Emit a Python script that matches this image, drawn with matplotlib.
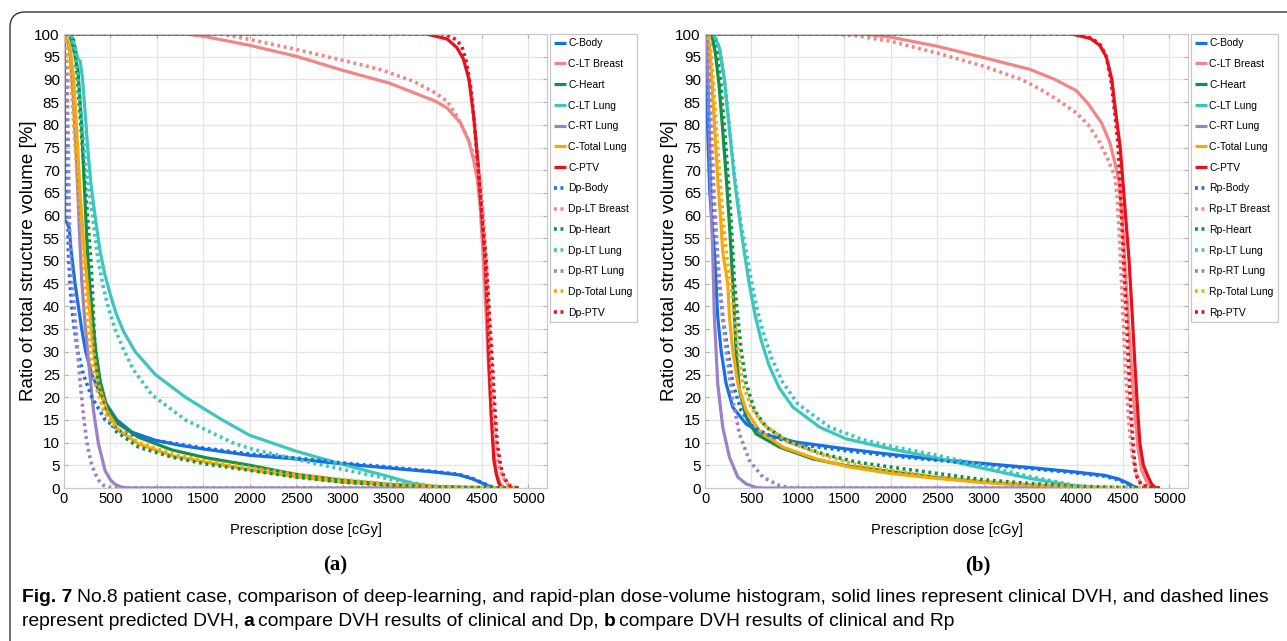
import matplotlib
matplotlib.use('Agg')
import matplotlib.pyplot as plt
from matplotlib.patches import FancyBboxPatch

# (dose [cGy], volume [%]) pairs
# panel (a): clinical (C) vs deep-learning prediction (Dp)
a_c_body = [(0,100),(3,100),(6,59),(30,58.5),(55,57.4),(76,52.4),(119,45),(155,40),(191,35),(234,30),(299,25),(407,20),(569,15),(731,12.3),(983,10.5),(1250,9.4),(1500,8.6),(2000,7.2),(2500,6.4),(3000,5.3),(3500,4.4),(4000,3.5),(4250,2.9),(4400,2.0),(4520,0.9),(4590,0.3),(4640,0)]
a_c_breast = [(0,100),(1300,100),(1500,99.5),(2000,97.5),(2500,95.1),(3000,92),(3500,89.2),(4000,85.2),(4125,83.7),(4270,80.4),(4360,76.3),(4410,72.2),(4450,68),(4480,62),(4510,52),(4540,40),(4570,27),(4600,16),(4630,7),(4660,3),(4700,0.8),(4740,0)]
a_c_heart = [(0,100),(60,100),(100,97),(150,92),(190,80),(220,66),(250,53),(280,44),(310,37),(340,30.5),(390,23.5),(460,18),(580,14.2),(800,11.2),(1160,8.4),(1520,6.7),(2000,5.0),(2500,3.0),(3000,1.7),(3500,0.8),(4000,0.3),(4400,0)]
a_c_ltlung = [(0,100),(80,100),(120,97),(150,94.5),(175,94),(200,90),(230,82),(255,75),(290,67),(340,59),(390,52),(440,47),(500,42.5),(560,38.5),(640,34.5),(767,30),(983,25),(1307,20),(1703,15),(2000,11.6),(2500,8.1),(3000,5.2),(3500,2.5),(3760,1.0),(4000,0.3),(4200,0)]
a_c_rtlung = [(0,100),(30,99),(65,96),(100,86),(137,71.5),(165,57),(190,46),(220,37.7),(263,28.1),(317,17.1),(371,9.7),(443,3.8),(500,1.8),(550,0.8),(620,0.2),(700,0),(4000,0)]
a_c_totlung = [(0,100),(30,99),(65,97),(100,91),(137,79),(173,65),(215,53),(250,45),(281,38),(317,30.3),(371,23),(461,17),(587,12.7),(803,9.7),(1163,7.1),(1523,5.7),(2000,4.0),(2500,2.5),(3000,1.3),(3500,0.7),(4000,0.3),(4300,0.1),(4500,0)]
a_c_ptv = [(0,100),(3900,100),(4125,98.9),(4230,97),(4300,94.5),(4360,90),(4410,82),(4460,71),(4500,60),(4535,50),(4560,38),(4574,28),(4600,16),(4628,6.1),(4655,3),(4682,1),(4710,0)]

a_p_body = [(0,100),(15,99),(25,90),(35,75),(47,52.4),(65,45),(83,40),(112,35),(148,30),(209,25),(299,20),(443,15),(623,12.3),(839,11.2),(1000,10.4),(1500,8.8),(2000,7.5),(2500,6.6),(3000,5.5),(3500,4.6),(4000,3.6),(4250,3.0),(4400,2.1),(4520,1.0),(4600,0.3),(4660,0)]
a_p_breast = [(0,100),(1700,100),(2000,98.8),(2500,96.6),(3000,94.2),(3400,92.2),(3760,89.6),(4000,87),(4125,85.2),(4230,81.9),(4340,77.4),(4430,72.2),(4480,68.5),(4520,58),(4550,47),(4580,35),(4610,22),(4640,12),(4670,6),(4720,2.5),(4780,0.8),(4850,0)]
a_p_heart = [(0,100),(90,100),(115,97),(144,90),(199,75),(253,60),(289,50),(305,44),(317,37.7),(335,30.3),(371,23),(443,17),(551,12.6),(803,9),(1163,6.8),(1523,5.3),(2000,3.9),(2500,2.4),(3000,1.3),(3500,0.6),(4000,0.25),(4500,0.1),(4900,0)]
a_p_ltlung = [(0,100),(70,100),(110,97),(150,90),(199,79),(253,68),(307,60),(361,51),(420,44.5),(480,39.5),(550,35),(641,30.5),(749,26),(947,20.5),(1307,15),(1811,10),(2000,8.7),(2500,6.3),(3000,4.1),(3500,2.0),(4000,0.3),(4200,0)]
a_p_rtlung = [(0,100),(15,98),(35,88),(50,70),(65,52),(90,45),(119,37.7),(150,29),(180,22),(210,16),(240,11),(270,7.5),(300,5),(340,3),(380,1.5),(430,0.5),(500,0),(4000,0)]
a_p_totlung = [(0,100),(20,98),(45,95),(80,88),(120,75),(160,63),(200,54),(227,45),(245,37.7),(281,30.3),(335,23),(425,17),(551,13.4),(803,10),(1163,7.5),(1523,6),(2000,4.5),(2500,3.0),(3000,1.8),(3500,0.9),(4000,0.4),(4500,0.1),(4900,0)]
a_p_ptv = [(0,100),(4100,100),(4200,99),(4280,97.5),(4330,94),(4380,88),(4420,80),(4460,70),(4500,60),(4545,50),(4580,38),(4610,28),(4640,17),(4664,9.8),(4700,5),(4736,2.4),(4770,1.2),(4808,0.4),(4860,0.1),(4916,0)]

# panel (b): clinical (C) vs rapid-plan prediction (Rp)
b_c_body = [(0,100),(5,97),(15,90),(30,78),(50,66),(75,58),(101,52),(119,45),(137,37.7),(173,30.3),(227,23),(299,17.8),(443,14.1),(623,11.9),(983,10.1),(1523,8.6),(2000,7.4),(2500,6.3),(3000,5.4),(3500,4.5),(4000,3.5),(4300,2.8),(4450,2.0),(4540,1.2),(4630,0.2),(4680,0)]
b_c_breast = [(0,100),(1700,100),(2000,99.3),(2500,97.3),(3000,94.8),(3500,92.2),(3766,90),(4000,87.5),(4126,84.6),(4270,80.4),(4360,76),(4414,71.5),(4458,67.5),(4490,60),(4520,50),(4555,38),(4590,27),(4625,17),(4660,9),(4700,4),(4760,1.2),(4820,0)]
b_c_heart = [(0,100),(70,100),(110,96),(150,89),(190,79),(230,68),(260,59),(281,52),(299,45),(317,37.7),(335,30.3),(371,21.5),(443,15.6),(551,11.9),(803,9),(1163,6.4),(1523,4.9),(2000,3.6),(2500,2.3),(3000,1.3),(3500,0.6),(4000,0.2),(4300,0)]
b_c_ltlung = [(0,100),(90,100),(155,97),(209,90),(263,79),(317,68),(380,58),(430,51),(480,44.5),(540,38),(605,32.5),(690,27),(800,22),(947,17.8),(1235,13.4),(1523,10.8),(2000,8.6),(2500,6.6),(3000,4.3),(3500,2.1),(4000,0.4),(4200,0)]
b_c_rtlung = [(0,100),(15,98),(35,88),(55,72),(70,60),(83,52),(101,37.7),(137,23),(191,13.4),(263,6.8),(353,2.4),(443,0.9),(551,0.1),(623,0),(4000,0)]
b_c_totlung = [(0,100),(30,100),(50,97),(80,88),(110,77),(140,67),(170,59),(191,52),(245,45),(263,37.7),(299,30.3),(353,23),(443,17.1),(587,12.6),(839,9),(1199,6.4),(1559,4.6),(2000,3.2),(2500,2.1),(3000,1.2),(3500,0.6),(4000,0.2),(4300,0)]
b_c_ptv = [(0,100),(3950,100),(4150,99),(4250,97.5),(4320,95),(4380,90),(4420,83),(4470,75),(4520,62),(4566,50),(4600,38),(4626,28),(4655,18),(4682,9.8),(4720,5),(4772,2.4),(4810,0.8),(4844,0.2),(4860,0)]

b_p_body = [(0,100),(15,99),(35,92),(55,80),(80,67),(119,52),(155,45),(191,37.7),(245,30.3),(299,23),(389,17.1),(515,13.4),(731,11.2),(983,9.7),(1523,8.2),(2000,7.1),(2500,6.1),(3000,5.2),(3500,4.3),(4000,3.3),(4300,2.6),(4450,1.8),(4540,1.0),(4620,0.2),(4680,0)]
b_p_breast = [(0,100),(1350,100),(1600,99.7),(2000,98.4),(2500,95.8),(3000,92.9),(3406,90),(3586,88.1),(3766,85.9),(4000,82.6),(4126,80),(4234,76.7),(4342,72.2),(4414,68.5),(4440,63.5),(4470,52),(4500,38),(4530,25),(4560,15),(4600,7),(4650,2.5),(4700,0.8),(4760,0)]
b_p_heart = [(0,100),(90,100),(130,96),(170,89),(210,79),(250,68),(280,59),(299,52),(317,45),(353,37.7),(389,30.3),(443,23),(533,17.1),(659,13.4),(911,10.1),(1271,7.5),(1631,5.7),(2000,4.6),(2500,3.2),(3000,1.8),(3500,1.0),(4000,0.4),(4500,0.1),(4900,0)]
b_p_ltlung = [(0,100),(100,100),(165,96),(220,88),(275,77),(330,67),(390,58),(443,52),(500,45.5),(560,39.5),(630,34),(720,28.5),(830,23.5),(1000,18.5),(1343,13.4),(1703,10.6),(2000,9.2),(2500,7.2),(3000,4.9),(3500,2.5),(4000,0.5),(4250,0)]
b_p_rtlung = [(0,100),(20,98),(45,90),(70,78),(100,64),(140,50),(180,40),(227,30.3),(299,19.3),(371,11.9),(479,6),(623,2.4),(803,0.5),(947,0),(4000,0)]
b_p_totlung = [(0,100),(40,100),(60,97),(95,88),(130,77),(165,67),(200,58),(240,50),(280,45),(317,37.7),(353,30.3),(407,23),(497,17.8),(623,14.1),(875,10.4),(1235,7.5),(1595,5.3),(2000,3.8),(2500,2.4),(3000,1.4),(3500,0.7),(4000,0.3),(4500,0.1),(4900,0)]
b_p_ptv = [(0,100),(4000,100),(4170,99),(4260,97.5),(4320,95),(4370,90),(4410,83),(4446,76),(4480,62),(4508,50),(4540,37),(4558,28),(4590,15),(4615,8),(4637,3.2),(4670,1.5),(4709,0.6),(4800,0.2),(4900,0)]

structures = ['Body', 'LT Breast', 'Heart', 'LT Lung', 'RT Lung', 'Total Lung', 'PTV']
colors = ['#1570e8', '#f28585', '#12914a', '#3cc6bd', '#9b82c6', '#f5a90c', '#e8101c']
x_ticks = list(range(0, 5001, 500))
y_ticks = list(range(0, 101, 5))

W, H = 1287, 641
plt.rcParams['font.family'] = ['Liberation Sans', 'DejaVu Sans']

fig = plt.figure(figsize=(W / 100, H / 100), dpi=100)


def draw_panel(left, clinical, predicted, tag, letter, letter_x):
    ax = fig.add_axes([left / W, 1 - 488 / H, 483 / W, 454 / H])
    for name, pts, col in zip(structures, clinical, colors):
        d, v = zip(*pts)
        ax.plot(d, v, color=col, lw=2.3, label='C-' + name, solid_capstyle='butt')
    for name, pts, col in zip(structures, predicted, colors):
        d, v = zip(*pts)
        ax.plot(d, v, color=col, lw=2.6, ls=(0, (0.8, 1.0)), label=tag + '-' + name)
    ax.set_xlim(0, 5200)
    ax.set_ylim(0, 100)
    ax.set_xticks(x_ticks)
    ax.set_yticks(y_ticks)
    ax.tick_params(labelsize=11, direction='in', length=3, color='#b0b0b0',
                   top=True, right=True, pad=3)
    ax.tick_params(axis='x', labelsize=10.5)
    ax.grid(True, color='#e4e4e4', lw=0.9)
    for sp in ax.spines.values():
        sp.set_color('#c8c8c8')
    ax.set_ylabel('Ratio of total structure volume [%]', fontsize=13.5)
    ax.yaxis.set_label_coords(-0.056, 0.5)
    ax.set_xlabel('Prescription dose [cGy]', fontsize=10.5)
    ax.xaxis.set_label_coords(0.5, -0.077)
    leg = ax.legend(loc='upper left', bbox_to_anchor=(1.006, 1.0), borderaxespad=0,
                    fontsize=7.5, handlelength=1.15, handletextpad=0.2, labelspacing=1.03,
                    borderpad=0.42, fancybox=False, framealpha=1, edgecolor='#c8c8c8')
    leg.get_frame().set_linewidth(0.9)
    fig.text(letter_x / W, 1 - 565 / H, letter, family=['Liberation Serif', 'DejaVu Serif'],
             fontweight='bold', fontsize=15, ha='center', va='center')
    return ax


draw_panel(64, [a_c_body, a_c_breast, a_c_heart, a_c_ltlung, a_c_rtlung, a_c_totlung, a_c_ptv],
           [a_p_body, a_p_breast, a_p_heart, a_p_ltlung, a_p_rtlung, a_p_totlung, a_p_ptv],
           'Dp', '(a)', 335)
draw_panel(705, [b_c_body, b_c_breast, b_c_heart, b_c_ltlung, b_c_rtlung, b_c_totlung, b_c_ptv],
           [b_p_body, b_p_breast, b_p_heart, b_p_ltlung, b_p_rtlung, b_p_totlung, b_p_ptv],
           'Rp', '(b)', 978)

# outer frame with rounded corner, running off the right and bottom edges
frame = FancyBboxPatch((10 / W, -0.05), 1.05, 1.05 - 12 / H,
                       boxstyle='round,pad=0,rounding_size=0.012', mutation_aspect=W / H,
                       transform=fig.transFigure, fill=False, edgecolor='#333333', lw=1.0)
fig.patches.append(frame)

# caption with bold pieces
renderer = fig.canvas.get_renderer()


def rich_line(x_px, y_px, chunks, size=13.9):
    x = x_px
    for s, w in chunks:
        t = fig.text(x / W, 1 - y_px / H, s, fontsize=size, fontweight=w, va='center', ha='left')
        x += t.get_window_extent(renderer=renderer).width + 4.3


rich_line(22, 598, [('Fig. 7', 'bold'),
                    ('No.8 patient case, comparison of deep-learning, and rapid-plan dose-volume histogram, '
                     'solid lines represent clinical DVH, and dashed lines', 'normal')])
rich_line(22, 622, [('represent predicted DVH,', 'normal'), ('a', 'bold'),
                    ('compare DVH results of clinical and Dp,', 'normal'), ('b', 'bold'),
                    ('compare DVH results of clinical and Rp', 'normal')])

fig.savefig('out.png', dpi=100)
